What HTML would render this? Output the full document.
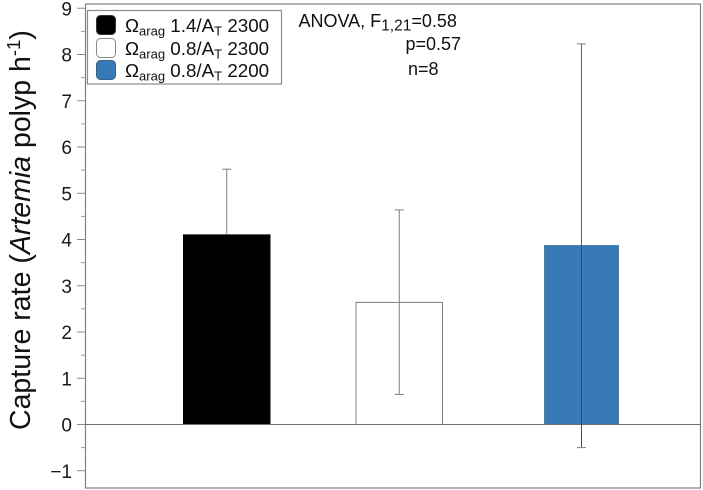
<!DOCTYPE html>
<html><head><meta charset="utf-8">
<style>
html,body{margin:0;padding:0;background:#fff}
svg{display:block;font-family:"Liberation Sans",sans-serif}
</style></head>
<body>
<svg id="chart" width="703" height="490" viewBox="0 0 703 490" xmlns="http://www.w3.org/2000/svg"></svg>
<script>
const categories = ["1.4/2300", "0.8/2300", "0.8/2200"];
const barValues = [4.10, 2.64, 3.87];
const errorUpper = [5.52, 4.64, 8.23];
const errorLower = [2.68, 0.65, -0.50];
const barColors = ["#000000", "#ffffff", "#387ab8"];
const yTicks = [-1, 0, 1, 2, 3, 4, 5, 6, 7, 8, 9];
const yMinorTicks = [-0.5, 0.5, 1.5, 2.5, 3.5, 4.5, 5.5, 6.5, 7.5, 8.5];

const svgNS = "http://www.w3.org/2000/svg";
const svg = document.getElementById("chart");
const y = v => 424.5 - v * 46.25;
const barLeft = i => [183.5, 356, 544.5][i];
const barWidth = i => [86.5, 86.5, 74][i];
const fmt = v => v < 0 ? "\u2212" + Math.abs(v) : String(v);

function mk(tag, attrs, parent) {
  const e = document.createElementNS(svgNS, tag);
  for (const k in attrs) e.setAttribute(k, attrs[k]);
  (parent || svg).appendChild(e);
  return e;
}

const frame = mk("rect", {x: 85.5, y: 4, width: 615, height: 484, fill: "#fff", stroke: "#7f7f7f", "stroke-width": 1.2});



yTicks.forEach(t => {
  const l = mk("line", {x1: 77, x2: 85.5, y1: y(t), y2: y(t), stroke: "#8a8a8a", "stroke-width": 1});
  
  
  const s = mk("text", {x: 72, y: y(t) + 7, "text-anchor": "end", "font-size": 19, fill: "#1a1a1a"});
  s.textContent = fmt(t);
  
  
});
yMinorTicks.forEach(t => {
  const l = mk("line", {x1: 81, x2: 85.5, y1: y(t), y2: y(t), stroke: "#9a9a9a", "stroke-width": 1});
  
  
});

categories.forEach((c, i) => {
  const top = y(barValues[i]);
  const r = mk("rect", {x: barLeft(i), y: top, width: barWidth(i), height: y(0) - top, fill: barColors[i], stroke: i === 1 ? "#808080" : (i === 2 ? "#4f7ea6" : "#000"), "stroke-width": 1});
  
  
});

const zero = mk("line", {x1: 85.5, x2: 700.5, y1: y(0), y2: y(0), stroke: "#6e6e6e", "stroke-width": 1.1});



categories.forEach((c, i) => {
  const cx = barLeft(i) + barWidth(i) / 2;
  const upperColor = i === 2 ? "#5a5f66" : "#7f7f7f";
  const lowerColor = i === 0 ? "#000000" : (i === 2 ? "#2f4f70" : "#7f7f7f");
  const up = mk("line", {x1: cx, x2: cx, y1: y(errorUpper[i]), y2: y(barValues[i]), stroke: upperColor, "stroke-width": 1});
  
  
  const low = mk("line", {x1: cx, x2: cx, y1: y(barValues[i]), y2: y(errorLower[i]), stroke: lowerColor, "stroke-width": 1});
  
  
  const capUp = mk("line", {x1: cx - 4.5, x2: cx + 4.5, y1: y(errorUpper[i]), y2: y(errorUpper[i]), stroke: "#7f7f7f", "stroke-width": 1});
  
  
  const capLow = mk("line", {x1: cx - 4.5, x2: cx + 4.5, y1: y(errorLower[i]), y2: y(errorLower[i]), stroke: i === 0 ? "#000000" : "#7f7f7f", "stroke-width": 1});
  
  
});
</script>

<script>
(function(){
  const svg = document.getElementById("chart");
  const markup = `
  <text transform="translate(30,430) rotate(-90)" font-size="28.5" fill="#111">Capture rate (<tspan font-style="italic">Artemia</tspan> polyp h<tspan dy="-10" font-size="18.5">-1</tspan><tspan dy="10">)</tspan></text>
  <g>
    <rect x="87.5" y="10.5" width="194" height="73.5" fill="#fff" stroke="#8c8c8c" stroke-width="1.2"/>
    <rect x="96.5" y="15.5" width="19" height="19" rx="4" fill="#000" stroke="#333"/>
    <rect x="96.5" y="38.5" width="19" height="19" rx="4" fill="#fff" stroke="#888"/>
    <rect x="96.5" y="60.5" width="19" height="19" rx="4" fill="#387ab8" stroke="#3a6288"/>
    <text x="125" y="32" font-size="18.8" fill="#111">Ω<tspan dy="3.5" font-size="13">arag</tspan><tspan dy="-3.5"> 1.4/A</tspan><tspan dy="3.5" font-size="13">T</tspan><tspan dy="-3.5"> 2300</tspan></text>
    <text x="125" y="55" font-size="18.8" fill="#111">Ω<tspan dy="3.5" font-size="13">arag</tspan><tspan dy="-3.5"> 0.8/A</tspan><tspan dy="3.5" font-size="13">T</tspan><tspan dy="-3.5"> 2300</tspan></text>
    <text x="125" y="77" font-size="18.8" fill="#111">Ω<tspan dy="3.5" font-size="13">arag</tspan><tspan dy="-3.5"> 0.8/A</tspan><tspan dy="3.5" font-size="13">T</tspan><tspan dy="-3.5"> 2200</tspan></text>
  </g>
  <text x="298.5" y="27" font-size="18" fill="#111">ANOVA, F<tspan dy="3.5" font-size="15.5">1,21</tspan><tspan dy="-3.5">=0.58</tspan></text>
  <text x="405.5" y="50" font-size="18" fill="#111">p=0.57</text>
  <text x="408" y="75" font-size="18" fill="#111">n=8</text>`;
  svg.insertAdjacentHTML("beforeend", markup);
})();
</script>
</body></html>
